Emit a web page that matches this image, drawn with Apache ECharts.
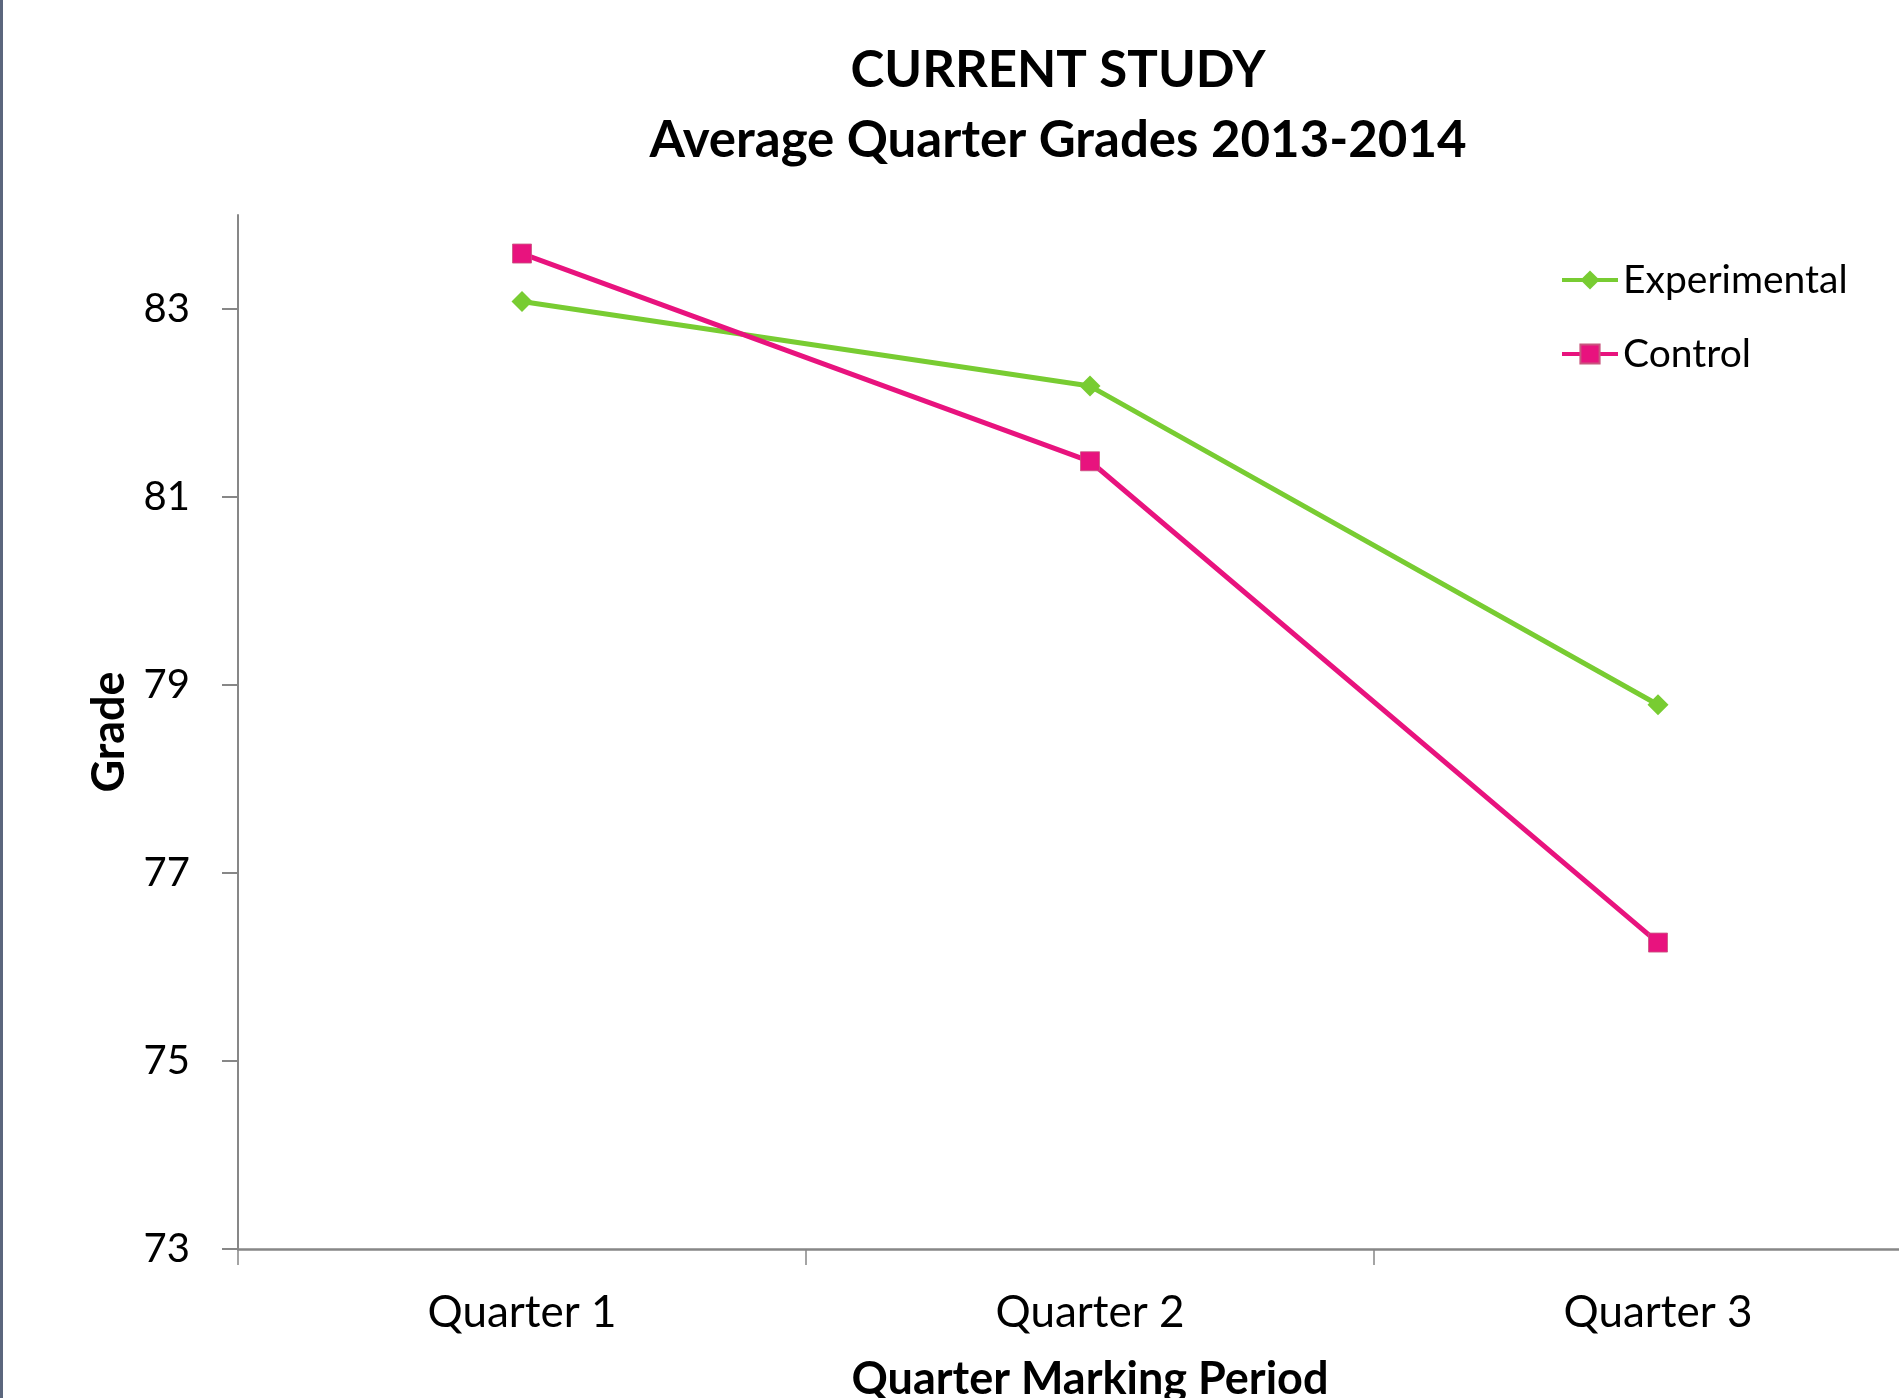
<!DOCTYPE html>
<html>
<head>
<meta charset="utf-8">
<title>Average Quarter Grades 2013-2014</title>
<script src="https://cdn.jsdelivr.net/npm/echarts@6/dist/echarts.min.js"></script>
<style>
  html, body { margin: 0; padding: 0; background: #ffffff; }
  #chart { width: 1899px; height: 1398px; }
</style>
</head>
<body>
<div id="chart"></div>
<script>
// Quarter marking periods
const quarters = ['Quarter 1', 'Quarter 2', 'Quarter 3'];
// Average grades per group
const experimental = [83.08, 82.18, 78.79];
const control = [83.59, 81.38, 76.26];
// Labelled grade ticks
const gradeTicks = [73, 75, 77, 79, 81, 83];

const FONT = 'Lato, "Open Sans", sans-serif';
const GREEN = '#78CC32';
const PINK = '#E8137E';
const AXIS_GRAY = '#878787';

const chart = echarts.init(document.getElementById('chart'), null, { renderer: 'canvas' });

chart.setOption({
  backgroundColor: '#ffffff',
  animation: false,
  textStyle: { fontFamily: FONT },
  title: {
    text: 'CURRENT STUDY\nAverage Quarter Grades 2013-2014',
    left: 1058,
    top: 36,
    padding: 0,
    textAlign: 'center',
    textStyle: {
      fontFamily: FONT,
      fontWeight: 'bold',
      fontSize: 51,
      lineHeight: 70,
      color: '#000000'
    }
  },
  legend: {
    orient: 'vertical',
    left: 1560,
    top: 260,
    padding: 0,
    itemGap: 34,
    itemWidth: 56,
    itemHeight: 24,
    lineStyle: { width: 4 },
    textStyle: { fontFamily: FONT, fontSize: 39, lineHeight: 40, color: '#000000' },
    data: ['Experimental', 'Control']
  },
  grid: {
    left: 238,
    top: 215,
    width: 1704,
    height: 1034,
    containLabel: false,
    outerBoundsMode: 'none'
  },
  xAxis: {
    type: 'category',
    data: quarters,
    boundaryGap: true,
    name: 'Quarter Marking Period',
    nameLocation: 'middle',
    nameGap: 108,
    nameTextStyle: { fontFamily: FONT, fontWeight: 'bold', fontSize: 45, lineHeight: 44, color: '#000000' },
    axisLine: { lineStyle: { color: AXIS_GRAY, width: 2.5 } },
    axisTick: { show: true, alignWithLabel: false, length: 16, lineStyle: { color: AXIS_GRAY, width: 1.5 } },
    axisLabel: { margin: 42, fontFamily: FONT, fontSize: 44, lineHeight: 44, color: '#000000' },
    splitLine: { show: false }
  },
  yAxis: {
    type: 'value',
    min: 73,
    max: 84,
    name: 'Grade',
    nameLocation: 'middle',
    nameGap: 107,
    nameRotate: 90,
    nameTextStyle: { fontFamily: FONT, fontWeight: 'bold', fontSize: 45, lineHeight: 44, color: '#000000' },
    axisLine: { show: true, lineStyle: { color: AXIS_GRAY, width: 2 } },
    axisTick: { show: true, length: 16, customValues: gradeTicks, lineStyle: { color: AXIS_GRAY, width: 2 } },
    axisLabel: { margin: 48, customValues: gradeTicks, fontFamily: FONT, fontSize: 40, color: '#000000' },
    splitLine: { show: false }
  },
  graphic: [
    {
      type: 'rect',
      left: 0,
      top: 0,
      shape: { width: 3, height: 1398 },
      style: { fill: '#5B667D' },
      silent: true
    }
  ],
  series: [
    {
      name: 'Experimental',
      type: 'line',
      data: experimental,
      symbol: 'diamond',
      symbolSize: [21, 21],
      lineStyle: { color: GREEN, width: 5 },
      itemStyle: { color: GREEN },
      z: 2
    },
    {
      name: 'Control',
      type: 'line',
      data: control,
      symbol: 'rect',
      symbolSize: 19,
      lineStyle: { color: PINK, width: 5 },
      itemStyle: { color: PINK, borderColor: '#C8567F', borderWidth: 0.8 },
      z: 3
    }
  ]
});
</script>
</body>
</html>
